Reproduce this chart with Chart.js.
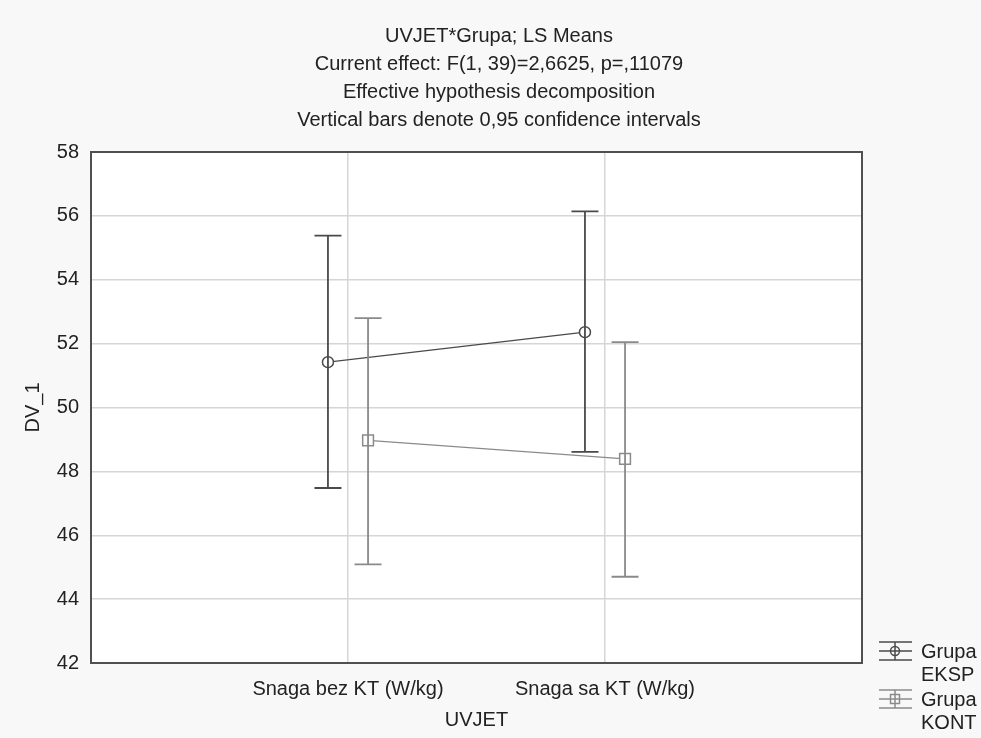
<!DOCTYPE html>
<html>
<head>
<meta charset="utf-8">
<script src="https://cdn.jsdelivr.net/npm/chart.js@4"></script>
<style>
  html, body { margin: 0; padding: 0; background: #f8f8f8; }
</style>
</head>
<body>
<canvas id="myChart" width="981" height="738"></canvas>
<script>
// data
const categories = ['Snaga bez KT (W/kg)', 'Snaga sa KT (W/kg)'];
const groups = ['EKSP', 'KONT'];
const eksMean = [51.42, 52.36];
const eksLow = [47.48, 48.61];
const eksHigh = [55.38, 56.14];
const konMean = [48.97, 48.39];
const konLow = [45.09, 44.70];
const konHigh = [52.80, 52.05];
const yTicks = [42, 44, 46, 48, 50, 52, 54, 56, 58];
const titleLines = [
  'UVJET*Grupa; LS Means',
  'Current effect: F(1, 39)=2,6625, p=,11079',
  'Effective hypothesis decomposition',
  'Vertical bars denote 0,95 confidence intervals'
];

const FONT = '"Liberation Sans", Arial, sans-serif';
const dark = '#4a4a4a';
const light = '#8a8a8a';
const dodge = 0.078;

function pts(means, off) {
  return means.map((m, i) => ({ x: i + 1 + off, y: m }));
}

const bgPlugin = {
  id: 'bg',
  beforeDraw(chart) {
    const { ctx, chartArea: a } = chart;
    ctx.save();
    ctx.fillStyle = '#f8f8f8';
    ctx.fillRect(0, 0, chart.width, chart.height);
    ctx.fillStyle = '#ffffff';
    ctx.fillRect(a.left, a.top, a.right - a.left, a.bottom - a.top);
    ctx.restore();
  }
};

const errorBars = {
  id: 'errorBars',
  afterDatasetsDraw(chart) {
    const { ctx, scales: { x, y } } = chart;
    chart.data.datasets.forEach(ds => {
      ctx.save();
      ctx.strokeStyle = ds.borderColor;
      ctx.lineWidth = 1.8;
      ds.data.forEach((p, i) => {
        const px = x.getPixelForValue(p.x);
        const top = y.getPixelForValue(ds.high[i]);
        const bot = y.getPixelForValue(ds.low[i]);
        ctx.beginPath();
        ctx.moveTo(px, top); ctx.lineTo(px, bot);
        ctx.moveTo(px - 13.5, top); ctx.lineTo(px + 13.5, top);
        ctx.moveTo(px - 13.5, bot); ctx.lineTo(px + 13.5, bot);
        ctx.stroke();
      });
      ctx.restore();
    });
  }
};

function legendSymbol(ctx, cx, cy, color, shape) {
  ctx.save();
  ctx.strokeStyle = color;
  ctx.lineWidth = 1.5;
  ctx.beginPath();
  ctx.moveTo(cx - 16, cy - 9); ctx.lineTo(cx + 17, cy - 9);
  ctx.moveTo(cx - 16, cy); ctx.lineTo(cx + 17, cy);
  ctx.moveTo(cx - 16, cy + 9); ctx.lineTo(cx + 17, cy + 9);
  ctx.moveTo(cx, cy - 9); ctx.lineTo(cx, cy + 9);
  ctx.stroke();
  ctx.beginPath();
  if (shape === 'circle') ctx.arc(cx, cy, 4.5, 0, Math.PI * 2);
  else ctx.rect(cx - 4.5, cy - 4.5, 9, 9);
  ctx.stroke();
  ctx.restore();
}

const decor = {
  id: 'decor',
  afterDraw(chart) {
    const { ctx, chartArea: a } = chart;
    ctx.save();
    // frame
    ctx.strokeStyle = '#505050';
    ctx.lineWidth = 2;
    ctx.strokeRect(a.left, a.top, a.right - a.left, a.bottom - a.top);
    // title
    ctx.fillStyle = '#222';
    ctx.font = '20px ' + FONT;
    ctx.textAlign = 'center';
    ctx.textBaseline = 'middle';
    titleLines.forEach((t, i) => ctx.fillText(t, 499, 36 + i * 28));
    // legend
    const colors = [dark, light];
    const shapes = ['circle', 'rect'];
    ctx.textAlign = 'left';
    groups.forEach((g, i) => {
      const cy = 651 + i * 48;
      legendSymbol(ctx, 895, cy, colors[i], shapes[i]);
      ctx.fillStyle = '#222';
      ctx.fillText('Grupa', 921, cy + 1);
      ctx.fillText(g, 921, cy + 24);
    });
    ctx.restore();
  }
};

new Chart(document.getElementById('myChart'), {
  type: 'line',
  data: {
    datasets: [{
      label: 'Grupa ' + groups[0],
      data: pts(eksMean, -dodge),
      low: eksLow,
      high: eksHigh,
      borderColor: dark,
      borderWidth: 1.3,
      pointStyle: 'circle',
      pointRadius: 5.5,
      pointBorderWidth: 1.5,
      pointBackgroundColor: '#fff',
      pointBorderColor: dark
    }, {
      label: 'Grupa ' + groups[1],
      data: pts(konMean, dodge),
      low: konLow,
      high: konHigh,
      borderColor: light,
      borderWidth: 1.3,
      pointStyle: 'rect',
      pointRadius: 7.6,
      pointBorderWidth: 1.5,
      pointBackgroundColor: '#fff',
      pointBorderColor: light
    }]
  },
  options: {
    responsive: false,
    animation: false,
    devicePixelRatio: 1,
    layout: { padding: { top: 152, right: 119, left: 0, bottom: 0 } },
    plugins: { legend: { display: false }, title: { display: false }, tooltip: { enabled: false } },
    scales: {
      x: {
        type: 'linear',
        min: 0,
        max: 3,
        afterFit: s => { s.height = 75; },
        afterBuildTicks: s => { s.ticks = categories.map((c, i) => ({ value: i + 1 })); },
        ticks: {
          padding: 14,
          color: '#222',
          font: { family: FONT, size: 20 },
          callback: v => categories[v - 1]
        },
        grid: { drawTicks: false, color: '#d6d6d6', lineWidth: 1.5 },
        border: { display: false },
        title: { display: true, text: 'UVJET', color: '#222', font: { family: FONT, size: 20 }, padding: { top: 0, bottom: 6 } }
      },
      y: {
        min: 42,
        max: 58,
        afterFit: s => { s.width = 91; },
        afterBuildTicks: s => { s.ticks = yTicks.map(v => ({ value: v })); },
        ticks: { padding: 12, color: '#222', font: { family: FONT, size: 20 } },
        grid: { drawTicks: false, color: '#d6d6d6', lineWidth: 1.5 },
        border: { display: false },
        title: { display: true, text: 'DV_1', color: '#222', font: { family: FONT, size: 20 }, padding: { top: 21, bottom: 0 } }
      }
    }
  },
  plugins: [bgPlugin, errorBars, decor]
});
</script>
</body>
</html>
